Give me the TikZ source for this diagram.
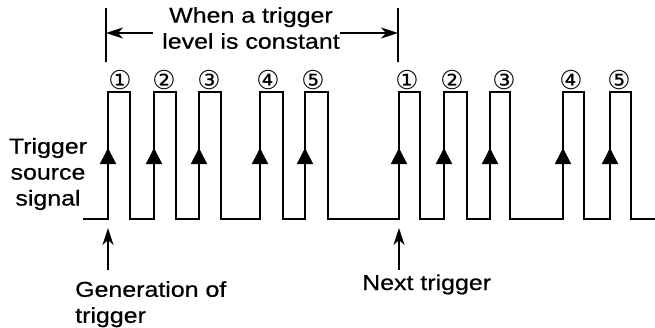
\documentclass[tikz,border=0pt]{standalone}
\usepackage{fontspec}
\setmainfont[FakeStretch=1.16,FakeBold=0.6]{Liberation Sans}
\newfontfamily\symfont{DejaVu Sans}
\usetikzlibrary{arrows.meta}
\begin{document}
\begin{tikzpicture}[x=1pt,y=-1pt,
  wave/.style={line width=1.7pt, line join=miter, line cap=butt},
  lbl/.style={font=\fontsize{21.5}{26}\selectfont, inner sep=0pt},
  num/.style={font=\symfont\fontsize{26}{26}\selectfont, inner sep=0pt},
  ptr/.style={line width=1.5pt, -{Stealth[length=17pt,width=11pt,inset=5pt]}},
  edgetip/.style={line width=1.7pt, -{Triangle[length=16pt,width=16pt]}},
  bar/.style={line width=1.5pt}]
\useasboundingbox (0,0) rectangle (655,327);

% waveform
\coordinate (w0) at (83,219);
\coordinate (w1) at (655,219);
\draw[wave] (w0)
  foreach \a/\b in {108/130,154/176,199/221,260/283,305/328,399/420,444/467,490/510,563/584,610/631}
  { -- (\a,219) -- (\a,92) -- (\b,92) -- (\b,219) }
  -- (w1);

% rising-edge marks
\foreach \x [count=\i] in {108,154,199,260,305,399,444,490,563,610} {
  \coordinate (e\i) at (\x,219);
  \coordinate (t\i) at (\x,148);
  \draw[edgetip] (e\i) -- (t\i);
}

% pulse numbers
\foreach \x/\t [count=\i] in {120/①,164/②,209/③,268/④,313/⑤,407/①,452/②,504/③,571/④,619/⑤}
  \node[num] (n\i) at (\x,80) {\t};

% title and bracket
\node[lbl, align=center] (title) at (251,28) {When a trigger\\level is constant};
\coordinate (vl0) at (106,8);  \coordinate (vl1) at (106,62);
\coordinate (vr0) at (398,8);  \coordinate (vr1) at (398,62);
\draw[bar] (vl0) -- (vl1);
\draw[bar] (vr0) -- (vr1);
\coordinate (al) at (153,33); \coordinate (bl) at (106,33);
\coordinate (ar) at (340,33); \coordinate (br) at (398,33);
\draw[ptr] (al) -- (bl);
\draw[ptr] (ar) -- (br);

% side label
\node[lbl, align=center] (src) at (48,174) {Trigger\\source\\signal};

% bottom labels
\node[lbl, align=left, anchor=north west] (gen) at (75,281) {Generation of\\trigger};
\node[lbl, anchor=base west] (next) at (362,290) {Next trigger};
\coordinate (g0) at (108,270); \coordinate (g1) at (108,228);
\coordinate (n0) at (399,270); \coordinate (n1) at (399,228);
\draw[ptr] (g0) -- (g1);
\draw[ptr] (n0) -- (n1);
\end{tikzpicture}
\end{document}
